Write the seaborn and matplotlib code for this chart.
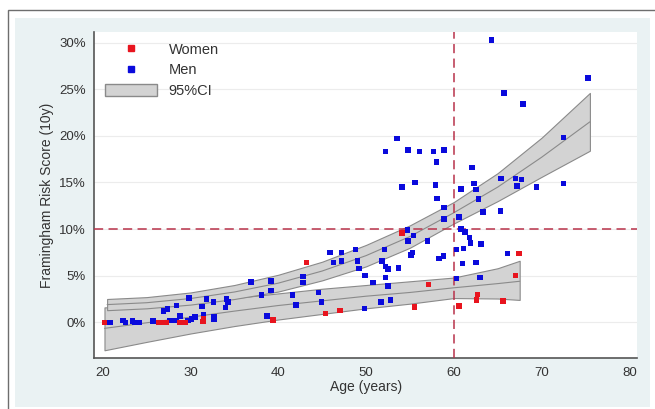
import numpy as np
import pandas as pd
import matplotlib
matplotlib.use("Agg")
import matplotlib.pyplot as plt
from matplotlib.patches import Rectangle, Patch
from matplotlib.lines import Line2D
import seaborn as sns

# ---------------- data ----------------
men_age = [20.8, 22.3, 22.6, 23.4, 23.6, 24.2, 25.7, 26.9, 27.4, 27.6, 28.0, 28.4, 28.4, 28.8,
           29.7, 29.8, 30.1, 30.5, 31.3, 31.5, 31.8, 32.6, 32.7, 32.7, 34.1, 34.3, 34.0, 36.9,
           38.1, 38.7, 39.2, 39.2, 41.6, 42.0, 42.8, 42.8, 44.6, 44.9, 45.9, 46.3, 47.2, 47.2,
           48.8, 49.0, 49.2, 49.9, 49.8, 50.8, 51.8, 52.1, 52.2, 52.5, 52.2, 52.5, 51.7, 52.8,
           53.7, 54.7, 54.8, 55.4, 55.1, 55.3, 57.0, 58.3, 58.8, 58.1, 58.9, 58.9, 60.6, 60.3,
           61.1, 60.3, 60.8, 61.3, 61.8, 61.9, 63.1, 61.0, 62.5, 63.0, 63.3, 65.3, 66.1, 62.8,
           53.5, 52.2, 54.8, 56.1, 57.7, 58.9, 58.0, 54.1, 55.6, 57.9, 60.8, 62.1, 62.3, 62.5,
           65.4, 67.0, 67.7, 67.2, 69.4, 72.5, 72.5, 64.3, 65.7, 67.9, 75.3]
men_risk = [0.0, 0.2, 0.0, 0.15, 0.0, 0.0, 0.15, 1.2, 1.4, 0.2, 0.2, 0.2, 1.8, 0.7,
            0.2, 2.6, 0.35, 0.55, 1.7, 0.8, 2.5, 2.2, 0.6, 0.3, 2.5, 2.2, 1.6, 4.35,
            2.9, 0.7, 4.45, 3.4, 2.9, 1.85, 4.9, 4.25, 3.2, 2.15, 7.5, 6.4, 7.5, 6.6,
            7.8, 6.6, 5.75, 5.0, 1.46, 4.25, 6.6, 7.8, 6.0, 5.7, 4.8, 3.9, 2.2, 2.4,
            5.8, 9.9, 8.7, 9.3, 7.2, 7.5, 8.7, 6.85, 7.1, 13.3, 12.3, 11.1, 11.3, 7.8,
            7.9, 4.7, 10.0, 9.7, 9.1, 8.5, 8.4, 6.3, 6.4, 4.8, 11.85, 11.95, 7.4, 13.2,
            19.7, 18.3, 18.5, 18.3, 18.3, 18.5, 17.2, 14.5, 15.0, 14.7, 14.3, 16.6, 14.9, 14.25,
            15.4, 15.4, 15.3, 14.6, 14.5, 14.9, 19.8, 30.3, 24.6, 23.4, 26.2]

women_age = [20.2, 26.4, 26.8, 27.2, 28.8, 29.4, 31.4, 31.5, 39.4, 43.2, 45.4, 47.0, 54.1,
             55.5, 57.1, 60.6, 62.6, 62.7, 65.6, 67.0, 67.4]
women_risk = [0.0, 0.0, 0.0, 0.0, 0.0, 0.0, 0.1, 0.35, 0.25, 6.4, 0.95, 1.25, 9.6,
              1.65, 4.05, 1.75, 2.4, 3.0, 2.3, 5.0, 7.4]

# fitted curves with 95% CI (read at fixed ages)
men_fit_age = [20.5, 25, 30, 35, 40, 45, 50, 55, 60, 65, 70, 75.5]
men_fit = [1.9, 2.1, 2.55, 3.25, 4.2, 5.5, 7.15, 9.2, 11.75, 14.5, 17.7, 21.5]
men_lo = [1.3, 1.5, 1.9, 2.5, 3.3, 4.5, 6.0, 8.0, 10.6, 13.0, 15.6, 18.4]
men_hi = [2.5, 2.7, 3.2, 4.0, 5.1, 6.5, 8.3, 10.4, 12.9, 16.0, 19.8, 24.6]

women_fit_age = [20.2, 25, 30, 35, 40, 45, 50, 55, 60, 65, 67.5]
women_fit = [-0.65, -0.05, 0.55, 1.2, 1.8, 2.3, 2.8, 3.2, 3.7, 4.15, 4.4]
women_lo = [-3.0, -2.1, -1.2, -0.4, 0.3, 0.9, 1.5, 2.0, 2.6, 2.55, 2.4]
women_hi = [1.6, 1.7, 2.1, 2.6, 3.1, 3.6, 4.0, 4.4, 4.8, 5.8, 6.6]

yticks = [0, 5, 10, 15, 20, 25, 30]
xticks = [20, 30, 40, 50, 60, 70, 80]
ref_risk = 10
ref_age = 60
# -----------------------------------------------------------

pts = pd.DataFrame({
    "age": men_age + women_age,
    "risk": men_risk + women_risk,
    "sex": ["Men"] * len(men_age) + ["Women"] * len(women_age),
})

sns.set_style("white")
plt.rcParams["font.family"] = ["Liberation Sans", "DejaVu Sans"]

fig = plt.figure(figsize=(6.55, 4.09), dpi=100)
fig.patch.set_facecolor("white")
# light graph region and outer frame (behind the axes)
fig.patches.append(Rectangle((15 / 655, 1 - 407 / 409), 635 / 655, 389 / 409,
                             transform=fig.transFigure, facecolor="#eaf2f3",
                             edgecolor="none", zorder=-2))
fig.patches.append(Rectangle((8 / 655, -0.2), 1.2, 1.2 - 10 / 409,
                             transform=fig.transFigure, fill=False,
                             edgecolor="#6e6e6e", lw=1.0, zorder=-1))

ax = fig.add_axes([94.3 / 655, 1 - 358.3 / 409, (637.3 - 94.3) / 655, (358.3 - 32.3) / 409])
ax.set_zorder(1)
ax.set_facecolor("white")

band_face = "#d3d3d3"
band_edge = "#8a8a8a"
for a, f, lo, hi in [(women_fit_age, women_fit, women_lo, women_hi),
                     (men_fit_age, men_fit, men_lo, men_hi)]:
    ax.fill_between(a, lo, hi, facecolor=band_face, edgecolor=band_edge, lw=0.8, zorder=2)
    sns.lineplot(x=a, y=f, ax=ax, color=band_edge, lw=0.8, zorder=3)

ax.axhline(ref_risk, color="#b8324a", lw=1.1, ls=(0, (6, 3.5)), zorder=4)
ax.axvline(ref_age, color="#b8324a", lw=1.1, ls=(0, (6, 3.5)), zorder=4)

sns.scatterplot(data=pts, x="age", y="risk", hue="sex",
                palette={"Men": "#0a0adc", "Women": "#e8141e"},
                marker="s", s=16, linewidth=0, ax=ax, zorder=5, legend=False)

ax.set_xlim(19.04, 80.9)
ax.set_ylim(-3.86, 31.1)
ax.set_xticks(xticks)
ax.set_yticks(yticks)
ax.set_yticklabels([f"{v}%" for v in yticks])
ax.yaxis.grid(True, color="#ececec", lw=0.8)
ax.set_axisbelow(True)
for s in ["top", "right"]:
    ax.spines[s].set_visible(False)
for s in ["left", "bottom"]:
    ax.spines[s].set_color("#555555")
    ax.spines[s].set_linewidth(1.2)
ax.tick_params(axis="both", direction="out", length=4, width=1, color="#555555",
               labelsize=9.5, labelcolor="#333333", pad=2)
ax.set_xlabel("Age (years)", fontsize=10, color="#333333", labelpad=1)
ax.set_ylabel("Framingham Risk Score (10y)", fontsize=10, color="#333333", labelpad=4)

handles = [
    Line2D([], [], ls="none", marker="s", markersize=4, color="#e8141e", label="Women"),
    Line2D([], [], ls="none", marker="s", markersize=4, color="#0a0adc", label="Men"),
    Patch(facecolor=band_face, edgecolor=band_edge, label="95%CI"),
]
ax.legend(handles=handles, loc="upper left", bbox_to_anchor=(0.0, 1.0), frameon=False,
          fontsize=10.5, handlelength=3.6, handleheight=0.9, handletextpad=0.8,
          labelspacing=0.45, borderaxespad=0.3, labelcolor="#333333")

fig.savefig("out.png", dpi=100)
